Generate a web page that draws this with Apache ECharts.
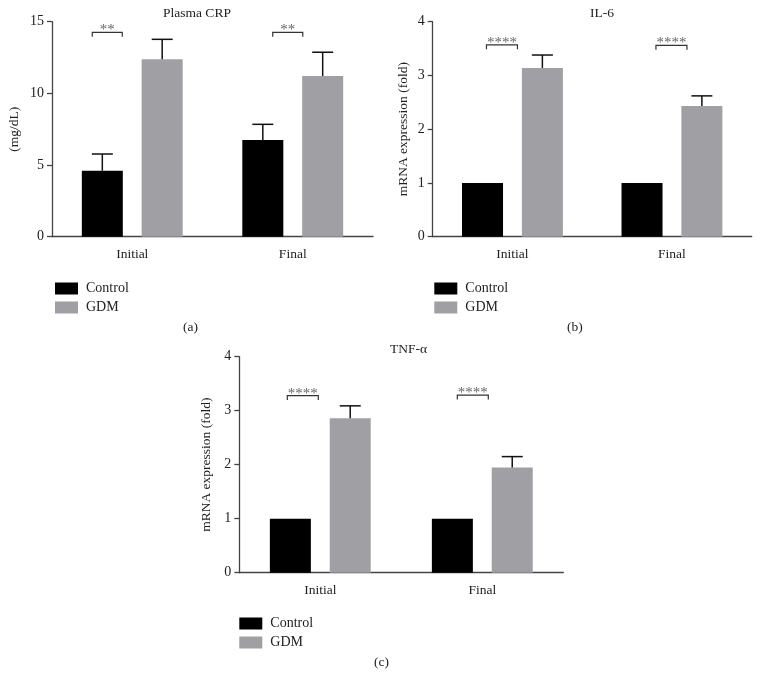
<!DOCTYPE html>
<html>
<head>
<meta charset="utf-8">
<script src="https://cdn.jsdelivr.net/npm/echarts@6/dist/echarts.min.js"></script>
<style>html,body{margin:0;padding:0;background:#fff}#c{width:765px;height:689px}</style>
</head>
<body>
<div id="c"></div>
<script>
// ---- data ----
const categories = ['Initial', 'Final'];
const seriesNames = ['Control', 'GDM'];
// (a) Plasma CRP (mg/dL)
const crpControl = [4.6, 6.75];
const crpControlUpper = [5.77, 7.84];
const crpGDM = [12.38, 11.21];
const crpGDMUpper = [13.77, 12.87];
const crpTicks = [0, 5, 10, 15];
const crpSig = ['**', '**'];
const crpSigLevel = [14.26, 14.26];
// (b) IL-6 mRNA expression (fold)
const il6Control = [1, 1];
const il6GDM = [3.14, 2.43];
const il6GDMUpper = [3.38, 2.62];
const il6Ticks = [0, 1, 2, 3, 4];
const il6Sig = ['****', '****'];
const il6SigLevel = [3.57, 3.56];
// (c) TNF-α mRNA expression (fold)
const tnfControl = [1, 1];
const tnfGDM = [2.86, 1.95];
const tnfGDMUpper = [3.09, 2.15];
const tnfTicks = [0, 1, 2, 3, 4];
const tnfSig = ['****', '****'];
const tnfSigLevel = [3.28, 3.29];

// ---- styles ----
const FONT = "'Liberation Serif', 'DejaVu Serif', serif";
const FS = 13.5;
const TXT = '#222';
const AX = '#444';
const C_CTRL = '#000000';
const C_GDM = '#a0a0a4';
const BAR_W = 41;
const BAR_GAP = '46%';
const HALF_SEP = (41 + 41 * 0.46) / 2;
// bracket pixel offsets (relative to category centre) per panel
const bracketOffsets = [
  [[-40, -10], [-20, 10]],
  [[-26, 5], [-16, 15]],
  [[-33, -2], [-25, 6]]
];

const chart = echarts.init(document.getElementById('c'), null, {renderer: 'canvas'});

const grids = [
  {left: 52, top: 21.7, width: 321, height: 215},
  {left: 432.7, top: 21.7, width: 319, height: 215},
  {left: 239.3, top: 356.7, width: 324, height: 216}
];

function xAxisFor(i) {
  return {
    type: 'category', gridIndex: i, data: categories,
    axisLine: {lineStyle: {color: AX, width: 1.3}},
    axisTick: {alignWithLabel: true, length: 5, lineStyle: {color: AX, width: 1.3}},
    axisLabel: {color: TXT, fontFamily: FONT, fontSize: FS, margin: 11},
    splitLine: {show: false}
  };
}
function yAxisFor(i, ticks, name, gap) {
  return {
    type: 'value', gridIndex: i, min: ticks[0], max: ticks[ticks.length - 1],
    interval: ticks[1] - ticks[0],
    name: name, nameLocation: 'middle', nameGap: gap,
    nameTextStyle: {color: TXT, fontFamily: FONT, fontSize: FS},
    axisLine: {show: true, lineStyle: {color: AX, width: 1.3}},
    axisTick: {show: true, length: 5, lineStyle: {color: AX, width: 1.3}},
    axisLabel: {color: TXT, fontFamily: FONT, fontSize: 14, margin: 8},
    splitLine: {show: false}
  };
}

function barSeries(i, name, data, color) {
  return {
    type: 'bar', name: name, xAxisIndex: i, yAxisIndex: i, data: data,
    barWidth: BAR_W, barGap: BAR_GAP,
    itemStyle: {color: color}, emphasis: {disabled: true}, animation: false
  };
}

function errSeries(i, means, uppers, side) {
  const d = means.map((m, k) => [k, m, uppers[k]]);
  return {
    type: 'custom', xAxisIndex: i, yAxisIndex: i, data: d, z: 5, animation: false,
    silent: true, clip: false,
    renderItem: function (params, api) {
      const base = api.coord([api.value(0), api.value(1)]);
      const top = api.coord([api.value(0), api.value(2)]);
      const x = base[0] + side * HALF_SEP;
      const style = {stroke: '#111', lineWidth: 1.5};
      return {
        type: 'group', children: [
          {type: 'line', shape: {x1: x, y1: base[1], x2: x, y2: top[1]}, style: style},
          {type: 'line', shape: {x1: x - 10.5, y1: top[1], x2: x + 10.5, y2: top[1]}, style: style}
        ]
      };
    }
  };
}

function sigSeries(i, levels, labels) {
  const d = levels.map((v, k) => [k, v]);
  return {
    type: 'custom', xAxisIndex: i, yAxisIndex: i, data: d, z: 5, animation: false,
    silent: true, clip: false,
    renderItem: function (params, api) {
      const idx = params.dataIndex;
      const p = api.coord([api.value(0), api.value(1)]);
      const off = bracketOffsets[i][idx];
      const x0 = p[0] + off[0], x1 = p[0] + off[1], y = p[1];
      const style = {stroke: '#333', lineWidth: 1.2, fill: null};
      return {
        type: 'group', children: [
          {type: 'polyline', shape: {points: [[x0, y + 4.5], [x0, y], [x1, y], [x1, y + 4.5]]}, style: style},
          {type: 'text', x: (x0 + x1) / 2, y: y - 2,
           style: {text: labels[idx], fill: '#666', font: '15px ' + FONT, align: 'center', verticalAlign: 'middle'}}
        ]
      };
    }
  };
}

function legendFor(left, top) {
  return {
    data: seriesNames, left: left, top: top, orient: 'vertical', padding: 0,
    icon: 'rect', itemWidth: 23, itemHeight: 12, itemGap: 5,
    textStyle: {color: TXT, fontFamily: FONT, fontSize: 14, padding: [0, 0, 0, 3]},
    selectedMode: false
  };
}

const titleStyle = {color: TXT, fontFamily: FONT, fontSize: FS, fontWeight: 'normal'};
const option = {
  backgroundColor: '#fff',
  animation: false,
  title: [
    {text: 'Plasma CRP', left: 163, top: 6, padding: 0, textStyle: titleStyle},
    {text: 'IL-6', left: 590, top: 6, padding: 0, textStyle: titleStyle},
    {text: 'TNF-α', left: 390, top: 342, padding: 0, textStyle: titleStyle},
    {text: '(a)', left: 183, top: 320, padding: 0, textStyle: titleStyle},
    {text: '(b)', left: 567, top: 320, padding: 0, textStyle: titleStyle},
    {text: '(c)', left: 374, top: 655, padding: 0, textStyle: titleStyle}
  ],
  legend: [legendFor(55, 281.5), legendFor(434.3, 281.5), legendFor(239.3, 616.5)],
  grid: grids,
  xAxis: [xAxisFor(0), xAxisFor(1), xAxisFor(2)],
  yAxis: [
    yAxisFor(0, crpTicks, '(mg/dL)', 31),
    yAxisFor(1, il6Ticks, 'mRNA expression (fold)', 22),
    yAxisFor(2, tnfTicks, 'mRNA expression (fold)', 26)
  ],
  series: [
    barSeries(0, 'Control', crpControl, C_CTRL),
    barSeries(0, 'GDM', crpGDM, C_GDM),
    errSeries(0, crpControl, crpControlUpper, -1),
    errSeries(0, crpGDM, crpGDMUpper, 1),
    sigSeries(0, crpSigLevel, crpSig),
    barSeries(1, 'Control', il6Control, C_CTRL),
    barSeries(1, 'GDM', il6GDM, C_GDM),
    errSeries(1, il6GDM, il6GDMUpper, 1),
    sigSeries(1, il6SigLevel, il6Sig),
    barSeries(2, 'Control', tnfControl, C_CTRL),
    barSeries(2, 'GDM', tnfGDM, C_GDM),
    errSeries(2, tnfGDM, tnfGDMUpper, 1),
    sigSeries(2, tnfSigLevel, tnfSig)
  ]
};
chart.setOption(option);
</script>
</body>
</html>
